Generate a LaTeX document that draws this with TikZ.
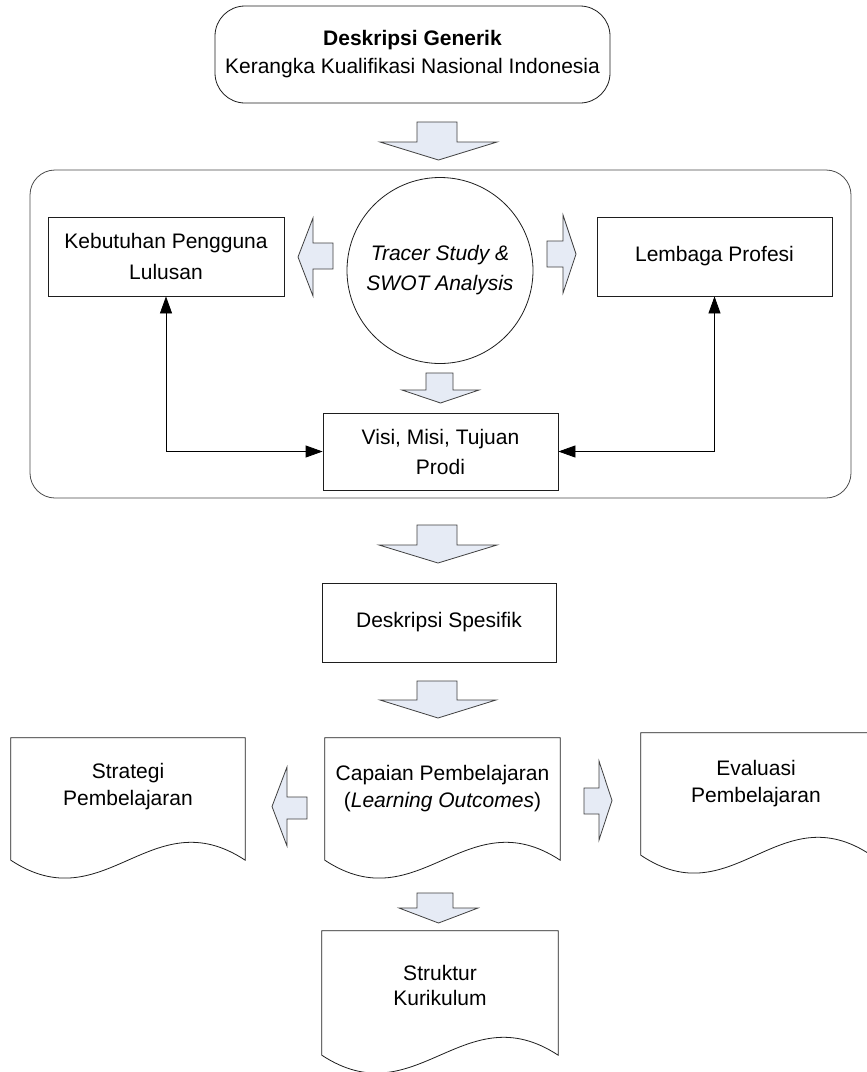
\documentclass[tikz,border=0pt]{standalone}
\usepackage{fontspec}
\setmainfont{Liberation Sans}
\usetikzlibrary{arrows.meta,calc}
\definecolor{arrowfill}{RGB}{230,235,245}
\definecolor{lineclr}{RGB}{30,30,30}
\newcommand{\blkdown}[7]{%
  \draw[blk] (#1,#3) -- (#2,#3) -- (#2,#4) -- (#6,#4) -- ({(#5+#6)/2},#7) -- (#5,#4) -- (#1,#4) -- cycle;}
\newcommand{\blkh}[7]{%
  \draw[blk] (#1,#3) -- (#2,#3) -- (#2,#5) -- (#7,{(#5+#6)/2}) -- (#2,#6) -- (#2,#4) -- (#1,#4) -- cycle;}
\newcommand{\docshape}[1]{%
  \draw[docline] (#1.north west) -- (#1.south west)
    .. controls ($(#1.south west)!0.4!(#1.south east)+(0,62)$) and ($(#1.south west)!0.6!(#1.south east)+(0,-62)$) .. (#1.south east)
    -- (#1.north east) -- cycle;}
\tikzset{
  txtfont/.style={font=\fontsize{21}{#1}\selectfont},
  box/.style={draw=lineclr, line width=0.8pt, rectangle, align=center, inner sep=0pt, txtfont=29},
  blk/.style={draw=black!75, fill=arrowfill, line width=0.8pt, line join=miter},
  docbase/.style={rectangle, inner sep=0pt},
  docline/.style={draw=lineclr, line width=0.8pt, fill=white},
  doctext/.style={align=center, inner sep=0pt, txtfont=27},
  conn/.style={draw=black, line width=0.8pt, {Triangle[length=17pt,width=12pt]}-{Triangle[length=17pt,width=12pt]}}
}
\begin{document}
\begin{tikzpicture}[x=1pt,y=-1pt]
\clip (0,0) rectangle (867,1072);
\fill[white] (0,0) rectangle (867,1072);

% top box
\node[box, rounded corners=30pt, minimum width=395pt, minimum height=97pt, txtfont=28] (gen) at (412.5,54.5)
  {\textbf{Deskripsi Generik}\\Kerangka Kualifikasi Nasional Indonesia};

% container
\node[draw=black!70, line width=0.8pt, rounded corners=25pt, minimum width=821pt, minimum height=328pt, inner sep=0pt] (cont) at (440.5,334) {};

\node[box, minimum width=236pt, minimum height=79pt, txtfont=31] (keb) at (166,256.5) {Kebutuhan Pengguna\\Lulusan};
\node[box, minimum width=235pt, minimum height=79pt] (lem) at (714.5,256.5) {Lembaga Profesi};
\node[box, circle, minimum size=186pt, font=\fontsize{21}{30}\selectfont\itshape] (tsa) at (440,270.5) {Tracer Study \&\\SWOT Analysis};
\node[box, minimum width=235pt, minimum height=77pt, txtfont=30] (visi) at (440.5,451.5) {Visi, Misi, Tujuan\\Prodi};

\draw[conn] (keb.south) |- (visi.west);
\draw[conn] (lem.south) |- (visi.east);

\node[box, minimum width=234pt, minimum height=79pt] (spes) at (439,622.5) {Deskripsi Spesifik};

% documents
\node[docbase, minimum width=234pt, minimum height=122pt] (strat) at (128,799) {};
\docshape{strat}
\node[doctext] (strat-t) at ([yshift=12pt]strat.center) {Strategi\\Pembelajaran};

\node[docbase, minimum width=235pt, minimum height=122pt] (cap) at (442.5,799) {};
\docshape{cap}
\node[doctext] (cap-t) at ([yshift=10pt]cap.center) {Capaian Pembelajaran\\(\textit{Learning Outcomes})};

\node[docbase, minimum width=230pt, minimum height=122pt] (eval) at (756,794) {};
\docshape{eval}
\node[doctext] (eval-t) at ([yshift=10pt]eval.center) {Evaluasi\\Pembelajaran};

\node[docbase, minimum width=236pt, minimum height=124pt] (struk) at (440,993) {};
\docshape{struk}
\node[doctext, txtfont=25] (struk-t) at ([yshift=8pt]struk.center) {Struktur\\Kurikulum};

% block arrows
\blkdown{417}{457}{122}{142}{380}{497}{160}
\blkdown{426}{453}{373}{390}{402}{479}{403}
\blkdown{417}{457}{525}{545}{379}{497}{563}
\blkdown{417}{457}{681}{700}{380}{496}{718}
\blkdown{417}{453}{893}{908}{399}{478}{923}
\blkh{333}{313}{243}{269}{218}{296}{298}
\blkh{547}{563}{241}{267}{215}{293}{576}
\blkh{307}{287}{797}{819}{767}{846}{272}
\blkh{584}{599}{788}{814}{761}{840}{612}
\end{tikzpicture}
\end{document}
